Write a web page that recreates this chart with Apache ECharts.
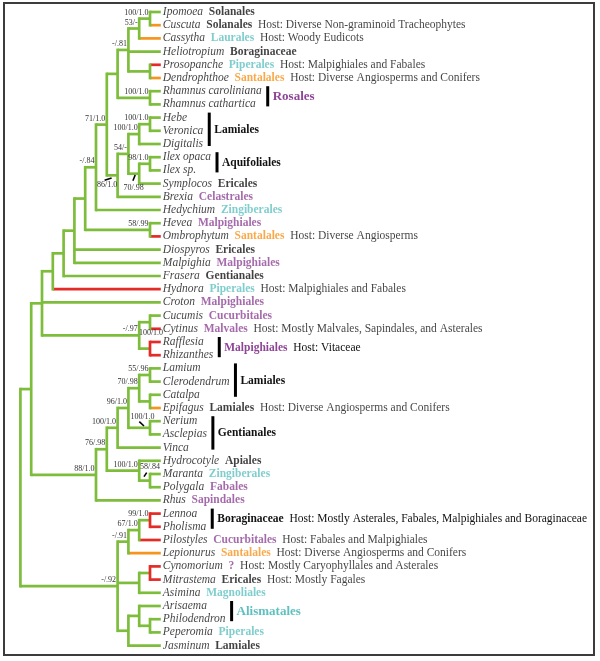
<!DOCTYPE html>
<html><head><meta charset="utf-8">
<script src="https://cdn.jsdelivr.net/npm/echarts@6/dist/echarts.min.js"></script>
<style>html,body{margin:0;padding:0;background:#fff}#c{width:600px;height:661px}</style>
</head><body><div id="c"></div>
<script>
// ---------- DATA ----------
const leaves = ['Ipomoea','Cuscuta','Cassytha','Heliotropium','Prosopanche','Dendrophthoe','Rhamnus caroliniana','Rhamnus cathartica','Hebe','Veronica','Digitalis','Ilex opaca','Ilex sp.','Symplocos','Brexia','Hedychium','Hevea','Ombrophytum','Diospyros','Malpighia','Frasera','Hydnora','Croton','Cucumis','Cytinus','Rafflesia','Rhizanthes','Lamium','Clerodendrum','Catalpa','Epifagus','Nerium','Asclepias','Vinca','Hydrocotyle','Maranta','Polygala','Rhus','Lennoa','Pholisma','Pilostyles','Lepionurus','Cynomorium','Mitrastema','Asimina','Arisaema','Philodendron','Peperomia','Jasminum'];
const leafOrder = ['Solanales','Solanales','Laurales','Boraginaceae','Piperales','Santalales','','','','','','','','Ericales','Celastrales','Zingiberales','Malpighiales','Santalales','Ericales','Malpighiales','Gentianales','Piperales','Malpighiales','Cucurbitales','Malvales','','','','','','Lamiales','','','','Apiales','Zingiberales','Fabales','Sapindales','','','Cucurbitales','Santalales','?','Ericales','Magnoliales','','','Piperales','Lamiales'];
const leafHost = ['','Diverse Non-graminoid Tracheophytes','Woody Eudicots','','Malpighiales and Fabales','Diverse Angiosperms and Conifers','','','','','','','','','','','','Diverse Angiosperms','','','','Malpighiales and Fabales','','','Mostly Malvales, Sapindales, and Asterales','','','','','','Diverse Angiosperms and Conifers','','','','','','','','','','Fabales and Malpighiales','Diverse Angiosperms and Conifers','Mostly Caryophyllales and Asterales','Mostly Fagales','','','','',''];
// parasite branch type: R = red, O = orange
const leafParasite = ['','O','O','','R','O','','','','','','','','','','','','R','','','','R','','','R','R','R','','','','O','','','','','','','','R','R','R','O','R','R','','','','',''];
// tree topology (parent pointers)
const leafParent = [12,12,11,10,13,13,14,14,18,18,17,20,20,19,15,7,21,21,5,5,4,3,2,23,23,24,24,30,30,31,31,32,32,27,33,34,34,25,38,38,37,36,40,40,39,42,43,43,41];
const nodeParent = [-1,0,1,2,3,4,5,6,7,8,9,10,11,10,9,8,15,16,17,16,19,6,2,22,22,1,25,26,27,28,29,29,28,26,33,0,35,36,37,35,39,35,41,42];
const nodeDepth  = [0,1,2,3,4,5,6,7,8,9,10,11,12,12,12,9,10,11,12,11,12,12,11,12,12,7,8,9,10,11,12,12,12,11,12,9,10,11,12,11,12,10,11,12];
const nodeSupport = ['','','','','','','','-/.84','71/1.0','','-/.81','53/-','100/1.0','','100/1.0','86/1.0','54/-','100/1.0','100/1.0','70/.98','98/1.0','58/.99','-/.97','','100/1.0','88/1.0','76/.98','100/1.0','96/1.0','70/.98','55/.96','','100/1.0','100/1.0','58/.84','-/.92','-/.91','67/1.0','99/1.0','','','',''];
const groupFirst = [6,8,11,25,27,31,38,45];
const groupLast  = [7,10,12,26,29,33,39,46];
const groupOrder = ['Rosales','Lamiales','Aquifoliales','Malpighiales','Lamiales','Gentianales','Boraginaceae','Alismatales'];
const groupHost  = ['','','','Vitaceae','','','Mostly Asterales, Fabales, Malpighiales and Boraginaceae',''];
const TIP_DEPTH = 13;

// ---------- STYLE ----------
const FF = '"Liberation Serif","Times New Roman",serif';
const FS = 11.5;
const GREEN = '#7dbd3b', RED = '#e42b27', ORANGE = '#f7941d';
const TEAL = '#5fc0c0', PURPLE = '#8e4596';
const LW = 2.7;
const tealSet = ['Laurales','Piperales','Zingiberales','Magnoliales','Alismatales'];
const purpleSet = ['Rosales','Celastrales','Malpighiales','Cucurbitales','Malvales','Fabales','Sapindales','?'];
const orangeSet = ['Santalales'];
const bigGroup = ['Rosales','Alismatales'];
function cls(o){ return tealSet.includes(o)?'t':purpleSet.includes(o)?'p':orangeSet.includes(o)?'o':'k'; }
const mk = (extra)=>Object.assign({fontFamily:FF,fontSize:FS},extra);
const rich = {
  n: mk({fontStyle:'italic',color:'#111',fill:'#111'}),
  k: mk({fontWeight:'bold',color:'#111',fill:'#111'}),
  t: mk({fontWeight:'bold',color:TEAL,fill:TEAL}),
  p: mk({fontWeight:'bold',color:PURPLE,fill:PURPLE}),
  o: mk({fontWeight:'bold',color:ORANGE,fill:ORANGE}),
  h: mk({color:'#111',fill:'#111'}),
  kb: mk({fontWeight:'bold',fontSize:13,color:'#111',fill:'#111'}),
  tb: mk({fontWeight:'bold',fontSize:13,color:TEAL,fill:TEAL}),
  pb: mk({fontWeight:'bold',fontSize:13,color:PURPLE,fill:PURPLE})
};
// special placement for some support values (px offsets from node point)
const specialLabel = {
  15:{dx:-10.5,dy:9.6,tick:[-13,5,-6,2.6]},
  19:{dx:-5.5,dy:14.6,tick:[-6.3,7,-4,1.3]},
  32:{dx:-7.5,dy:-11,tick:[-10.7,-6.1,-6,-1.8]},
  34:{dx:0,dy:-14,tick:[-3.3,-8,-6,-4]},
  24:{dx:1,dy:-15.3}
};

// ---------- TREE LAYOUT ----------
const nN = nodeParent.length;
const kids = Array.from({length:nN},()=>[]);
leafParent.forEach((p,i)=>kids[p].push({leaf:true,i}));
nodeParent.forEach((p,i)=>{ if(p>=0) kids[p].push({leaf:false,i}); });
const nodeY = new Array(nN);
const yOf = c => c.leaf ? c.i : nodeY[c.i];
function calc(n){ kids[n].forEach(c=>{ if(!c.leaf) calc(c.i); }); const ys=kids[n].map(yOf); nodeY[n]=(Math.min(...ys)+Math.max(...ys))/2; }
calc(0);
const hSeg=[], hCol=[], vSeg=[], vCol=[];
for(let n=0;n<nN;n++){
  const ys=kids[n].map(yOf);
  const allRed = kids[n].every(c=>c.leaf && leafParasite[c.i]==='R');
  vSeg.push([nodeDepth[n],Math.min(...ys),nodeDepth[n],Math.max(...ys)]);
  vCol.push(allRed?RED:GREEN);
  kids[n].forEach(c=>{
    const d = c.leaf?TIP_DEPTH:nodeDepth[c.i];
    hSeg.push([nodeDepth[n],yOf(c),d,yOf(c)]);
    const t = c.leaf?leafParasite[c.i]:'';
    hCol.push(t==='R'?RED:t==='O'?ORANGE:GREEN);
  });
}
const supData=[], supIdx=[];
nodeSupport.forEach((s,i)=>{ if(s){ supData.push([nodeDepth[i],nodeY[i]]); supIdx.push(i);} });

const mctx = document.createElement('canvas').getContext('2d');
function textW(t,font){ mctx.font=font; return mctx.measureText(t).width; }

function leafLabel(i){
  let s = '{n|'+leaves[i]+'}';
  if(leafOrder[i]) s += '  {'+cls(leafOrder[i])+'|'+leafOrder[i]+'}';
  if(leafHost[i]) s += '  {h|Host: '+leafHost[i]+'}';
  return s;
}
function segSeries(segs,cols,cap){
  return {type:'custom',silent:true,data:segs,encode:{x:[0,2],y:[1,3]},z:cap==='square'?3:2,
    renderItem:(p,api)=>{
      const a=api.coord([api.value(0),api.value(1)]), b=api.coord([api.value(2),api.value(3)]);
      return {type:'line',shape:{x1:a[0],y1:a[1],x2:b[0],y2:b[1]},style:{stroke:cols[p.dataIndex],lineWidth:LW,lineCap:cap}};
    }};
}

const chart = echarts.init(document.getElementById('c'),null,{renderer:'canvas'});
chart.setOption({
  backgroundColor:'#fff',
  animation:false,
  grid:{left:20.4,top:12,width:140.4,height:633.6},
  xAxis:{type:'value',min:0,max:TIP_DEPTH,show:false},
  yAxis:{type:'value',min:0,max:leaves.length-1,inverse:true,show:false},
  graphic:[{type:'rect',shape:{x:4,y:3,width:590,height:652},style:{fill:'none',stroke:'#3c3c3c',lineWidth:2},silent:true}],
  series:[
    segSeries(hSeg,hCol,'butt'),
    segSeries(vSeg,vCol,'square'),
    {type:'scatter',silent:true,symbolSize:0,data:leaves.map((n,i)=>[TIP_DEPTH,i]),
      label:{show:true,position:'right',distance:2,fontFamily:FF,fontSize:FS,color:'#111',
        formatter:p=>leafLabel(p.dataIndex),rich:rich}},
    {type:'custom',silent:true,data:supData,encode:{x:0,y:1},z:5,
      renderItem:(p,api)=>{
        const q=api.coord([api.value(0),api.value(1)]);
        const id=supIdx[p.dataIndex], txt=nodeSupport[id];
        const sp=specialLabel[id];
        const st={fill:'#333',fontSize:8,fontFamily:FF};
        if(!sp){
          return {type:'text',x:q[0]-1.5,y:q[1]-2,style:Object.assign({text:txt,align:'right',verticalAlign:'bottom'},st)};
        }
        const ch=[{type:'text',x:q[0]+sp.dx,y:q[1]+sp.dy,style:Object.assign({text:txt,align:'center',verticalAlign:'middle'},st)}];
        if(sp.tick){const t=sp.tick; ch.push({type:'line',shape:{x1:q[0]+t[0],y1:q[1]+t[1],x2:q[0]+t[2],y2:q[1]+t[3]},style:{stroke:'#000',lineWidth:1.6}});}
        return {type:'group',children:ch};
      }},
    {type:'custom',silent:true,data:groupFirst.map((f,k)=>[TIP_DEPTH,f,TIP_DEPTH,groupLast[k]]),encode:{x:[0,2],y:[1,3]},z:5,
      renderItem:(p,api)=>{
        const k=p.dataIndex;
        const a=api.coord([api.value(0),api.value(1)]), b=api.coord([api.value(2),api.value(3)]);
        let w=0; for(let i=groupFirst[k];i<=groupLast[k];i++) w=Math.max(w,textW(leaves[i],'italic '+FS+'px '+FF));
        const bx=a[0]+2+w+6;
        const o=groupOrder[k]; const c=cls(o)+(bigGroup.includes(o)?'b':'');
        let s='{'+c+'|'+o+'}'; if(groupHost[k]) s+='  {h|Host: '+groupHost[k]+'}';
        return {type:'group',children:[
          {type:'rect',shape:{x:bx-1.5,y:a[1]-5,width:3,height:b[1]-a[1]+7},style:{fill:'#000'}},
          {type:'text',x:bx+5,y:(a[1]+b[1])/2-1,style:{text:s,rich:rich,fontFamily:FF,fontSize:FS,fill:'#111',align:'left',verticalAlign:'middle'}}
        ]};
      }}
  ]
});
</script></body></html>
